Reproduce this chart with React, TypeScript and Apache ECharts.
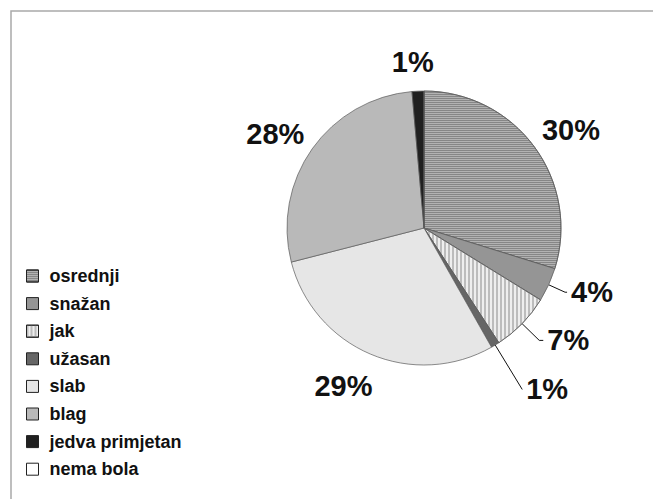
import React, { useEffect, useRef } from 'react';
import * as echarts from 'echarts';

// ---- data ----
const categories = ['osrednji', 'snažan', 'jak', 'užasan', 'slab', 'blag', 'jedva primjetan', 'nema bola'];
const shares = [29.8, 4.0, 7.0, 1.0, 29.2, 27.6, 1.4, 0];

// ---- styles ----
const sliceColors = ['#b2b2b2', '#959595', '#eeeeee', '#666666', '#e6e6e6', '#b9b9b9', '#202020', '#ffffff'];
const sliceDecals: any[] = [
  { symbol: 'rect', color: 'rgba(80,80,80,0.45)', dashArrayX: [1, 0], dashArrayY: [1, 1], symbolSize: 1, rotation: 0 },
  null,
  { symbol: 'rect', color: 'rgba(175,175,175,0.8)', dashArrayX: [1.5, 1.5], dashArrayY: [1, 0], symbolSize: 1, rotation: 0 },
  null, null, null, null, null,
];
// leader-line settings [length, length2] for small slices
const leaderLines: Record<number, [number, number]> = { 1: [18, 2], 2: [24, 4], 3: [52, 0] };
// small nudges for labels without leader lines [dx, dy]
const labelNudges: Record<number, [number, number]> = { 0: [-19, 0], 4: [17, 6], 5: [19, 1], 6: [21, -1] };

export default function App() {
  const ref = useRef<HTMLDivElement>(null);
  useEffect(() => {
    document.body.style.margin = '0';
    const chart = echarts.init(ref.current!, null, { renderer: 'svg' });
    const data = categories.map((name, i) => {
      const lead = leaderLines[i];
      const item: any = {
        name,
        value: shares[i],
        itemStyle: { color: sliceColors[i] },
        label: { show: shares[i] > 0 },
        labelLine: lead
          ? { show: true, length: lead[0], length2: lead[1] }
          : { show: false, length: 28, length2: 0 },
      };
      if (sliceDecals[i]) item.itemStyle.decal = sliceDecals[i];
      return item;
    });
    chart.setOption({
      animation: false,
      backgroundColor: '#ffffff',
      graphic: [
        {
          type: 'rect',
          shape: { x: 11, y: 11, width: 800, height: 700 },
          style: { fill: 'none', stroke: '#a9a9a9', lineWidth: 1.5 },
          silent: true,
        },
      ],
      legend: {
        orient: 'vertical',
        left: 21,
        top: 262,
        itemWidth: 12,
        itemHeight: 12,
        itemGap: 9.6,
        icon: 'rect',
        selectedMode: false,
        itemStyle: { borderColor: '#222', borderWidth: 1 },
        textStyle: {
          fontFamily: 'Liberation Sans',
          fontWeight: 'bold',
          fontSize: 18,
          color: '#111',
          padding: [0, 0, 0, 6],
        },
        data: categories,
      },
      series: [
        {
          type: 'pie',
          center: [424, 228],
          radius: [0, 137],
          startAngle: 90,
          clockwise: true,
          avoidLabelOverlap: false,
          stillShowZeroSum: true,
          itemStyle: { borderColor: '#5a5a5a', borderWidth: 0.7 },
          label: {
            position: 'outside',
            formatter: (p: any) => Math.round(p.percent) + '%',
            fontFamily: 'Liberation Sans',
            fontWeight: 'bold',
            fontSize: 29,
            color: '#111',
            distanceToLabelLine: 4,
          },
          labelLine: { lineStyle: { color: '#111', width: 1 } },
          labelLayout: (params: any) => {
            const n = labelNudges[params.dataIndex];
            return n ? { dx: n[0], dy: n[1] } : {};
          },
          emphasis: { disabled: true },
          data,
        },
      ],
    });
    return () => chart.dispose();
  }, []);
  return <div ref={ref} style={{ width: 653, height: 499 }} />;
}
